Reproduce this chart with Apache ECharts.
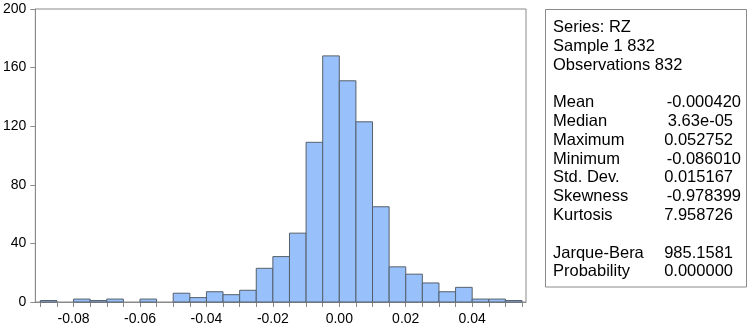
<!DOCTYPE html>
<html>
<head>
<meta charset="utf-8">
<script src="https://cdn.jsdelivr.net/npm/echarts@6/dist/echarts.min.js"></script>
<style>
html,body{margin:0;padding:0;background:#fff;}
#chart{width:748px;height:326px;}
</style>
</head>
<body>
<div id="chart"></div>
<script>
// ---- data ----
const binStarts = [-0.090,-0.085,-0.080,-0.075,-0.070,-0.065,-0.060,-0.055,-0.050,-0.045,
                   -0.040,-0.035,-0.030,-0.025,-0.020,-0.015,-0.010,-0.005,0.000,0.005,
                   0.010,0.015,0.020,0.025,0.030,0.035,0.040,0.045,0.050];
const binWidth = 0.005;
const counts = [1,0,2,1,2,0,2,0,6,3,
                7,5,8,23,31,47,109,168,151,123,
                65,24,19,13,7,10,2,2,1];
const xTickLabels = [-0.08,-0.06,-0.04,-0.02,0.00,0.02,0.04];
const yTickLabels = [0,40,80,120,160,200];
const headerLines = ['Series: RZ','Sample 1 832','Observations 832'];
const statNames = ['Mean','Median','Maximum','Minimum','Std. Dev.','Skewness','Kurtosis'];
const statValues = ['-0.000420','3.63e-05','0.052752','-0.086010','0.015167','-0.978399','7.958726'];
const testNames = ['Jarque-Bera','Probability'];
const testValues = ['985.1581','0.000000'];

// ---- build ----
const barData = binStarts.map((s,i)=>[s, s+binWidth, counts[i]]).filter(d=>d[2]>0);
const binEdges = binStarts.concat([binStarts[binStarts.length-1]+binWidth]);

const FONT = '"Liberation Sans", Arial, sans-serif';
const AXIS = '#8a8a8a';

const lines = [];
headerLines.forEach(t=>lines.push([t,'']));
lines.push(['','']);
statNames.forEach((t,i)=>lines.push([t,statValues[i]]));
lines.push(['','']);
testNames.forEach((t,i)=>lines.push([t,testValues[i]]));

const graphics = [{
  type:'rect', shape:{x:545.5,y:9.5,width:201,height:277.5},
  style:{fill:'#fff',stroke:AXIS,lineWidth:1}
}];
lines.forEach((ln,i)=>{
  const y = 27.5 + 18.8*i;
  if(ln[0]) graphics.push({type:'text',x:553,y:y,style:{text:ln[0],font:'16.5px '+FONT,fill:'#000',textVerticalAlign:'middle',textAlign:'left'}});
  if(ln[1]) graphics.push({type:'text',x:(ln[1].charAt(0)==='-'?741:733),y:y,style:{text:ln[1],font:'16.5px '+FONT,fill:'#000',textVerticalAlign:'middle',textAlign:'right'}});
});

const chart = echarts.init(document.getElementById('chart'),null,{renderer:'canvas'});
chart.setOption({
  animation:false,
  backgroundColor:'#fff',
  grid:{left:35,right:222,top:9,bottom:21,show:true,borderColor:AXIS,borderWidth:1,backgroundColor:'transparent'},
  xAxis:{
    type:'value', min:-0.0915, max:0.0562,
    splitLine:{show:false},
    axisLine:{show:true,onZero:false,lineStyle:{color:AXIS,width:1}},
    axisTick:{show:true,length:5,inside:false,customValues:binEdges,lineStyle:{color:AXIS}},
    axisLabel:{customValues:xTickLabels,margin:10,color:'#000',fontSize:14,fontFamily:FONT,
      formatter:v=>Number(v).toFixed(2)}
  },
  yAxis:{
    type:'value', min:0, max:200, interval:40,
    splitLine:{show:false},
    axisLine:{show:true,onZero:false,lineStyle:{color:AXIS,width:1}},
    axisTick:{show:true,length:5,inside:false,lineStyle:{color:AXIS}},
    axisLabel:{margin:9,color:'#000',fontSize:14,fontFamily:FONT,
      formatter:v=>String(v)}
  },
  series:[{
    type:'custom',
    data:barData,
    encode:{x:[0,1],y:2},
    renderItem:function(params,api){
      const p0 = api.coord([api.value(0), api.value(2)]);
      const p1 = api.coord([api.value(1), 0]);
      return {type:'rect',
        shape:{x:p0[0],y:p0[1],width:p1[0]-p0[0],height:p1[1]-p0[1]},
        style:{fill:'#98C0FA',stroke:'#56606c',lineWidth:1}};
    }
  }],
  graphic:graphics
});
</script>
</body>
</html>
